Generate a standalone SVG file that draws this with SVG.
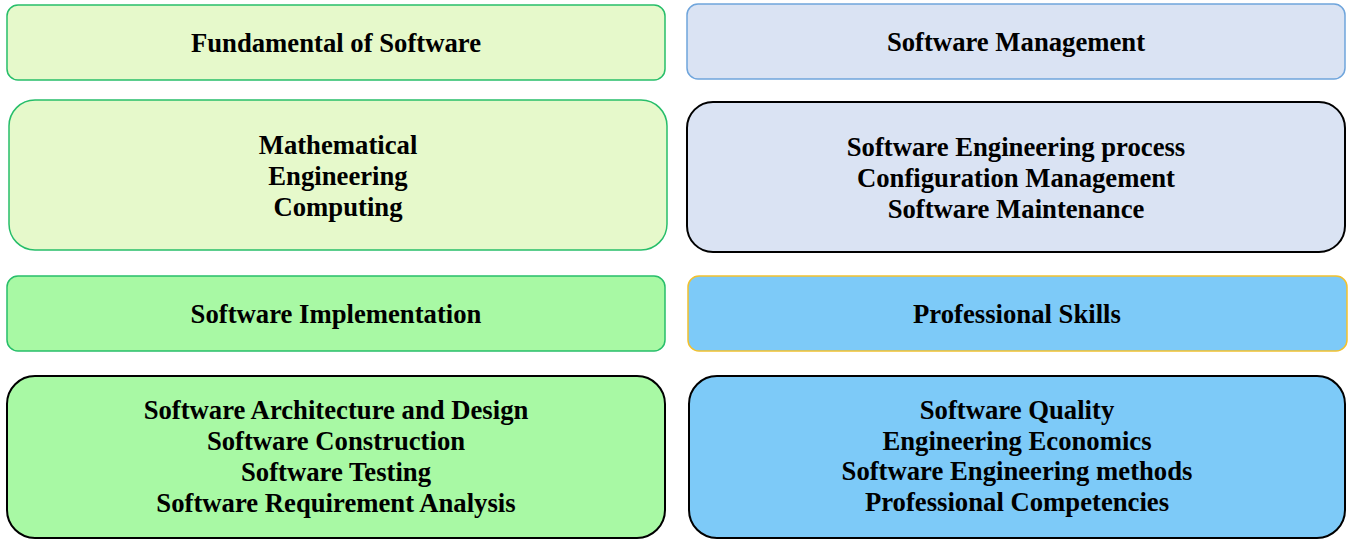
<svg xmlns="http://www.w3.org/2000/svg" width="1351" height="539" viewBox="0 0 1351 539">
  <style>
    .t { font-family: "Liberation Serif", "Times New Roman", serif; font-weight: bold; font-size: 26.7px; fill: #000; text-anchor: middle; }
    .g1 { fill: #e6f9cb; stroke: #27be6a; stroke-width: 1.5; }
    .g2 { fill: #a8f9a4; stroke: #27be6a; stroke-width: 1.5; }
    .b1 { fill: #dae3f3; stroke: #6fa5dc; stroke-width: 1.5; }
    .b2 { fill: #7dcaf8; stroke: #f2c12e; stroke-width: 1.5; }
    .k { stroke: #000; stroke-width: 2; }
  </style>
  <g id="fundamental-header">
    <rect class="g1" x="7" y="5" width="658" height="75" rx="11"/>
    <text class="t" x="336" y="52">Fundamental of Software</text>
  </g>
  <g id="fundamental-body">
    <rect class="g1" x="9" y="100" width="658" height="150" rx="26" stroke-width="2"/>
    <text class="t" x="338" y="154">Mathematical</text>
    <text class="t" x="338" y="185">Engineering</text>
    <text class="t" x="338" y="216">Computing</text>
  </g>
  <g id="management-header">
    <rect class="b1" x="687" y="4" width="658" height="75" rx="11"/>
    <text class="t" x="1016" y="51">Software Management</text>
  </g>
  <g id="management-body">
    <rect class="b1 k" x="687" y="102" width="658" height="150" rx="26"/>
    <text class="t" x="1016" y="156">Software Engineering process</text>
    <text class="t" x="1016" y="187">Configuration Management</text>
    <text class="t" x="1016" y="218">Software Maintenance</text>
  </g>
  <g id="implementation-header">
    <rect class="g2" x="7" y="276" width="658" height="75" rx="11"/>
    <text class="t" x="336" y="323">Software Implementation</text>
  </g>
  <g id="implementation-body">
    <rect class="g2 k" x="7" y="376" width="658" height="162" rx="28"/>
    <text class="t" x="336" y="419">Software Architecture and Design</text>
    <text class="t" x="336" y="450">Software Construction</text>
    <text class="t" x="336" y="481">Software Testing</text>
    <text class="t" x="336" y="512">Software Requirement Analysis</text>
  </g>
  <g id="skills-header">
    <rect class="b2" x="688" y="276" width="659" height="75" rx="11"/>
    <text class="t" x="1017" y="323">Professional Skills</text>
  </g>
  <g id="skills-body">
    <rect class="b2 k" x="689" y="376" width="656" height="162" rx="28"/>
    <text class="t" x="1017" y="419">Software Quality</text>
    <text class="t" x="1017" y="450">Engineering Economics</text>
    <text class="t" x="1017" y="480">Software Engineering methods</text>
    <text class="t" x="1017" y="511">Professional Competencies</text>
  </g>
  <g id="connectors"/>
</svg>
